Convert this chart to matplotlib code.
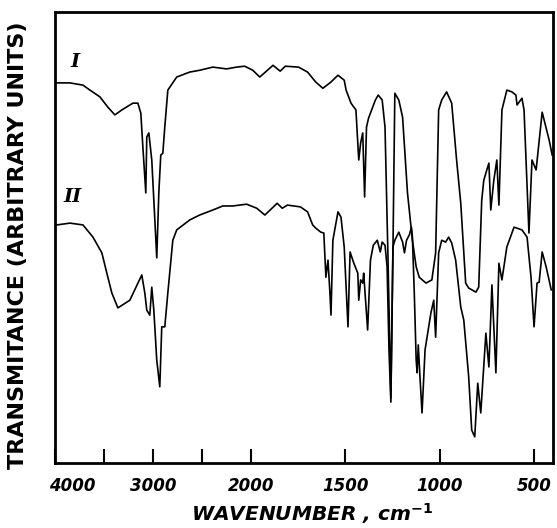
import numpy as np
import matplotlib
matplotlib.use('Agg')
import matplotlib.pyplot as plt
from matplotlib.transforms import ScaledTranslation

# spectrum I: wavenumber (cm-1) and transmittance (arbitrary, 0-100 of frame)
wn_1 = [3980, 3847, 3714, 3643, 3541, 3459, 3388, 3317, 3204, 3153, 3123, 3102, 3072, 3062,
        3041, 3011, 2990, 2960, 2939, 2919, 2898, 2878, 2847, 2756, 2623, 2521, 2388, 2246,
        2144, 2062, 1989, 1952, 1882, 1844, 1817, 1747, 1699, 1656, 1618, 1575, 1538, 1505,
        1495, 1469, 1443, 1428, 1418, 1407, 1397, 1387, 1376, 1340, 1325, 1304, 1289, 1273,
        1258, 1247, 1237, 1216, 1196, 1170, 1144, 1124, 1108, 1072, 1041, 1021, 1005, 989,
        963, 936, 910, 888, 862, 846, 808, 793, 777, 766, 750, 739, 729, 713, 697, 686, 670,
        644, 617, 596, 590, 564, 553, 527, 511, 489, 457, 420, 404]
tr_1 = [84.3, 84.3, 83.8, 82.7, 81.2, 78.9, 77.2, 78.3, 79.8, 79.8, 77.6, 70.1, 59.9, 72.3,
        73.2, 67.2, 58.3, 45.5, 59.9, 68.3, 68.7, 74.5, 82.7, 85.6, 86.7, 87.1, 87.8, 87.4,
        87.8, 88.0, 87.1, 85.6, 88.2, 86.9, 88.0, 87.8, 86.7, 84.5, 83.1, 84.5, 86.0, 84.9,
        82.7, 79.8, 78.3, 67.2, 71.0, 73.2, 59.0, 74.5, 76.5, 80.5, 81.6, 80.5, 74.5, 45.0,
        14.4, 47.2, 82.0, 80.5, 76.7, 59.9, 49.4, 43.5, 41.2, 39.9, 40.6, 46.6, 78.3, 80.5,
        82.3, 79.8, 67.2, 57.6, 39.9, 38.8, 37.9, 39.0, 58.3, 62.7, 65.0, 66.5, 56.1, 62.7,
        67.2, 57.2, 78.3, 82.7, 82.3, 81.6, 79.4, 80.9, 78.3, 51.0, 67.2, 65.0, 77.8, 71.6, 68.3]

# spectrum II
wn_2 = [3980, 3847, 3714, 3612, 3521, 3470, 3419, 3357, 3235, 3113, 3082, 3062, 3031, 3011,
        2990, 2960, 2929, 2909, 2878, 2847, 2796, 2756, 2623, 2521, 2388, 2286, 2184, 2042,
        1968, 1925, 1860, 1833, 1806, 1737, 1699, 1672, 1656, 1629, 1613, 1602, 1591, 1581,
        1575, 1565, 1538, 1522, 1505, 1485, 1474, 1454, 1433, 1428, 1418, 1407, 1402, 1381,
        1366, 1351, 1330, 1314, 1304, 1289, 1278, 1268, 1258, 1247, 1237, 1216, 1196, 1186,
        1175, 1160, 1149, 1144, 1134, 1124, 1119, 1113, 1103, 1093, 1077, 1046, 1031, 1021,
        1005, 989, 968, 952, 936, 915, 888, 872, 846, 830, 814, 798, 782, 755, 739, 723, 702,
        686, 670, 644, 606, 564, 537, 516, 500, 484, 473, 457, 436, 409]
tr_2 = [52.8, 53.2, 52.8, 50.1, 46.6, 42.1, 37.7, 34.4, 36.1, 41.7, 37.7, 33.9, 32.8, 39.0,
        33.9, 22.8, 16.9, 30.2, 30.2, 37.7, 49.4, 51.7, 53.9, 55.0, 56.1, 57.0, 57.0, 57.4,
        56.5, 55.0, 57.6, 56.5, 57.2, 56.8, 55.7, 52.8, 52.1, 51.2, 51.0, 41.2, 45.0, 38.0,
        32.8, 49.4, 55.7, 54.5, 47.9, 30.2, 46.8, 44.3, 42.1, 36.1, 40.6, 39.9, 42.1, 29.5,
        45.0, 48.3, 49.4, 46.8, 49.0, 48.3, 43.5, 25.1, 13.5, 47.9, 49.4, 51.2, 49.0, 46.6,
        49.4, 50.6, 52.3, 50.1, 37.7, 22.8, 20.0, 26.2, 18.4, 11.1, 25.1, 33.3, 36.1, 27.9,
        46.6, 49.4, 49.0, 50.1, 48.8, 45.0, 34.6, 31.7, 19.1, 7.3, 5.8, 17.7, 11.1, 28.8,
        21.3, 39.5, 20.0, 44.3, 40.6, 47.9, 52.3, 51.7, 50.1, 41.2, 30.2, 39.9, 40.1, 46.8,
        43.5, 38.4]

tick_pos = [4000, 3500, 3000, 2500, 2000, 1500, 1000, 500]
tick_lab = ['4000', '', '3000', '', '2000', '1500', '1000', '500']

K = 1.93  # chart paper: scale expands below 2000 cm-1


def fwd(w):
    w = np.asarray(w, dtype=float)
    return np.where(w >= 2000, w, 2000 - K * (2000 - w))


def inv(u):
    u = np.asarray(u, dtype=float)
    return np.where(u >= 2000, u, 2000 - (2000 - u) / K)


fig = plt.figure(figsize=(5.57, 5.28), dpi=100)
ax = fig.add_axes([0.0987, 0.1231, 0.894, 0.854])

ax.plot(wn_1, tr_1, color='black', linewidth=1.2)
ax.plot(wn_2, tr_2, color='black', linewidth=1.2)

ax.set_xscale('function', functions=(fwd, inv))
ax.set_xlim(4000, 400)
ax.set_ylim(0, 100)

ax.set_xticks(tick_pos)
ax.set_xticklabels(tick_lab, fontsize=12, fontweight='bold', fontstyle='italic')
ax.xaxis.set_minor_locator(plt.NullLocator())
ax.tick_params(axis='x', direction='in', length=10, width=1.5, pad=10)
ax.set_yticks([])
# first label sits inside the frame
lbl = ax.get_xticklabels()[0]
lbl.set_transform(lbl.get_transform() + ScaledTranslation(0.17, 0, fig.dpi_scale_trans))

for s in ax.spines.values():
    s.set_linewidth(2.0)

ax.text(3796, 89, 'I', fontsize=14, fontstyle='italic', fontweight='bold',
        family='DejaVu Serif', ha='center', va='center')
ax.text(3816, 59, 'II', fontsize=14, fontstyle='italic', fontweight='bold',
        family='DejaVu Serif', ha='center', va='center')

fig.text(312 / 557, 1 - 514 / 528, 'WAVENUMBER , cm$^{\\mathbf{-1}}$', fontsize=14.5,
         fontweight='bold', fontstyle='italic', ha='center', va='center')
fig.text(18 / 557, 1 - 245 / 528, 'TRANSMITANCE (ARBITRARY UNITS)', fontsize=16,
         fontweight='bold', rotation=90, ha='center', va='center')

plt.savefig('out.png', dpi=100)
